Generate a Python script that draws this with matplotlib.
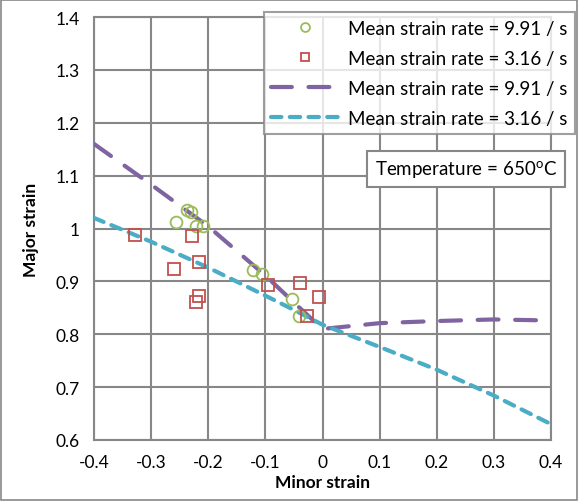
import matplotlib.pyplot as plt
from matplotlib.patches import Rectangle

plt.rcParams['font.family'] = ['Lato', 'DejaVu Sans']

# measured points
minor_991 = [-0.238, -0.231, -0.256, -0.222, -0.209, -0.121, -0.106, -0.054, -0.042]
major_991 = [1.035, 1.031, 1.013, 1.004, 1.005, 0.922, 0.914, 0.867, 0.834]

minor_316 = [-0.329, -0.229, -0.216, -0.260, -0.216, -0.222, -0.095, -0.040, -0.006, -0.027]
major_316 = [0.987, 0.985, 0.937, 0.923, 0.872, 0.861, 0.893, 0.897, 0.870, 0.834]

# fitted curves
fit_x = [-0.4, -0.3, -0.2, -0.1, -0.05, 0.0, 0.1, 0.2, 0.3, 0.4]
fit_991 = [1.16, 1.083, 1.004, 0.911, 0.86, 0.81, 0.821, 0.825, 0.828, 0.826]
fit_316 = [1.02, 0.975, 0.926, 0.873, 0.846, 0.818, 0.776, 0.733, 0.684, 0.63]

fig = plt.figure(figsize=(5.78, 5.02), dpi=100)
ax = fig.add_axes([94/578, 1 - 441/502, 457/578, 423/502])

grid_col = '#878787'
ax.plot(fit_x, fit_991, color='#8064A2', lw=3, dashes=(5, 4), dash_capstyle='round',
        label='Mean strain rate = 9.91 / s', zorder=3)
ax.plot(fit_x, fit_316, color='#4BACC6', lw=3, dashes=(2.5, 2), dash_capstyle='round',
        label='Mean strain rate = 3.16 / s', zorder=3)
ax.plot(minor_991, major_991, 'o', mfc='none', mec='#9BBB59', mew=1.3, ms=8.5,
        label='Mean strain rate = 9.91 / s', zorder=4)
ax.plot(minor_316, major_316, 's', mfc='none', mec='#C0504D', mew=1.3, ms=8,
        label='Mean strain rate = 3.16 / s', zorder=4)

ax.set_xlim(-0.4, 0.4)
ax.set_ylim(0.6, 1.4)
ax.set_xticks([-0.4, -0.3, -0.2, -0.1, 0, 0.1, 0.2, 0.3, 0.4])
ax.set_xticklabels(['-0.4', '-0.3', '-0.2', '-0.1', '0', '0.1', '0.2', '0.3', '0.4'])
ax.set_yticks([0.6, 0.7, 0.8, 0.9, 1.0, 1.1, 1.2, 1.3, 1.4])
ax.set_yticklabels(['0.6', '0.7', '0.8', '0.9', '1', '1.1', '1.2', '1.3', '1.4'])
ax.grid(True, color=grid_col, lw=1.5)
ax.set_axisbelow(True)
for s in ax.spines.values():
    s.set_color(grid_col)
    s.set_linewidth(1.5)
ax.tick_params(length=0, labelsize=12.5, pad=10)
ax.set_xlabel('Minor strain', fontsize=12.5, fontweight='bold', labelpad=3)
ax.set_ylabel('Major strain', fontsize=12.5, fontweight='bold', labelpad=12)

h, l = ax.get_legend_handles_labels()
order = [2, 3, 0, 1]
leg = fig.legend([h[i] for i in order], [l[i] for i in order],
                 loc='upper right', bbox_to_anchor=(575/578, 1 - 13/502),
                 fontsize=13.5, frameon=True, fancybox=False, handlelength=3.6,
                 borderaxespad=0, labelspacing=0.7, handletextpad=0.5,
                 borderpad=0.4, markerscale=0.75)
leg.get_frame().set_edgecolor(grid_col)
leg.get_frame().set_linewidth(1.5)

fig.text(466/578, 1 - 170/502, 'Temperature = 650$^{\\mathregular{o}}$C', fontsize=13.5,
         ha='center', va='center',
         bbox=dict(boxstyle='square,pad=0.4', fc='white', ec=grid_col, lw=1.5))

fig.patches.append(Rectangle((0.002, 0.002), 0.996, 0.996, transform=fig.transFigure,
                             fill=False, ec=grid_col, lw=1.2))

fig.savefig('out.png', dpi=100)
